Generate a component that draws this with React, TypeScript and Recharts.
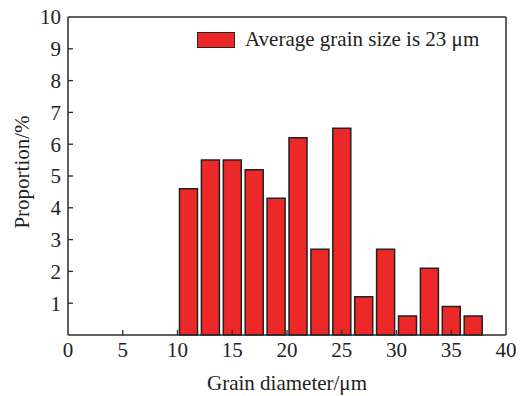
import React from "react";
import { BarChart, Bar, XAxis, YAxis, Legend, ReferenceLine } from "recharts";

const grainDiameters = [11, 13, 15, 17, 19, 21, 23, 25, 27, 29, 31, 33, 35, 37];
const proportions = [4.6, 5.5, 5.5, 5.2, 4.3, 6.2, 2.7, 6.5, 1.2, 2.7, 0.6, 2.1, 0.9, 0.6];
const xTicks = [0, 5, 10, 15, 20, 25, 30, 35, 40];
const yTicks = [1, 2, 3, 4, 5, 6, 7, 8, 9, 10];
const seriesName = "Average grain size is 23 μm";
const xLabel = "Grain diameter/μm";
const yLabel = "Proportion/%";

const data = grainDiameters.map((x, i) => ({ x, p: proportions[i] }));

const FONT = "'Liberation Serif', 'Times New Roman', serif";
const AXIS = "#2a2a2a";
const FILL = "#ED2828";

const XTick = (props: any) => {
  const { x, y, payload } = props;
  return (
    <g>
      {payload.value !== 0 && payload.value !== 40 && (
        <line x1={x} y1={y} x2={x} y2={y - 5} stroke={AXIS} strokeWidth={1.3} />
      )}
      <text x={x} y={y + 22} textAnchor="middle" fontFamily={FONT} fontSize={21} fill="#222">
        {payload.value}
      </text>
    </g>
  );
};

const YTick = (props: any) => {
  const { x, y, payload } = props;
  return (
    <g>
      {payload.value !== 10 && (
        <line x1={x} y1={y} x2={x + 5} y2={y} stroke={AXIS} strokeWidth={1.3} />
      )}
      <text x={x - 7} y={y} dy="0.35em" textAnchor="end" fontFamily={FONT} fontSize={21} fill="#222">
        {payload.value}
      </text>
    </g>
  );
};

const LegendContent = () => (
  <div style={{ display: "flex", alignItems: "center", fontFamily: FONT, fontSize: 21, color: "#222", whiteSpace: "nowrap" }}>
    <div
      style={{
        width: 36,
        height: 14,
        background: FILL,
        border: "1.5px solid #222",
        marginRight: 10,
      }}
    />
    <span>{seriesName}</span>
  </div>
);

const YLabel = (props: any) => {
  const { viewBox } = props;
  const cy = viewBox.y + viewBox.height / 2 - 4;
  const cx = 22;
  return (
    <text
      x={cx}
      y={cy}
      transform={`rotate(-90, ${cx}, ${cy})`}
      textAnchor="middle"
      dy="0.35em"
      fontFamily={FONT}
      fontSize={21}
      fill="#222"
    >
      {yLabel}
    </text>
  );
};

export default function App() {
  return (
    <div style={{ position: "absolute", left: 0, top: 0 }}>
      <BarChart
        width={522}
        height={396}
        data={data}
        margin={{ top: 17, right: 16, left: 0, bottom: 0 }}
      >
        <XAxis
          dataKey="x"
          type="number"
          domain={[0, 40]}
          ticks={xTicks}
          interval={0}
          tickLine={false}
          tickSize={0}
          tickMargin={0}
          tick={<XTick />}
          height={61}
          stroke={AXIS}
          strokeWidth={1.5}
          label={{
            value: xLabel,
            position: "insideBottom",
            offset: 6,
            style: { fontFamily: FONT, fontSize: 21, fill: "#222" },
          }}
        />
        <YAxis
          type="number"
          domain={[0, 10]}
          ticks={yTicks}
          interval={0}
          tickLine={false}
          tickSize={0}
          tickMargin={0}
          tick={<YTick />}
          width={68}
          stroke={AXIS}
          strokeWidth={1.5}
          label={<YLabel />}
        />
        <ReferenceLine y={10} stroke={AXIS} strokeWidth={1.5} />
        <ReferenceLine x={40} stroke={AXIS} strokeWidth={1.5} />
        <Legend
          layout="horizontal"
          verticalAlign="middle"
          align="center"
          content={<LegendContent />}
          wrapperStyle={{ top: 27, left: 197, width: "auto", height: "auto" }}
        />
        <Bar
          dataKey="p"
          name={seriesName}
          fill={FILL}
          stroke="#222"
          strokeWidth={1.5}
          barSize={18}
          isAnimationActive={false}
        />
      </BarChart>
    </div>
  );
}
